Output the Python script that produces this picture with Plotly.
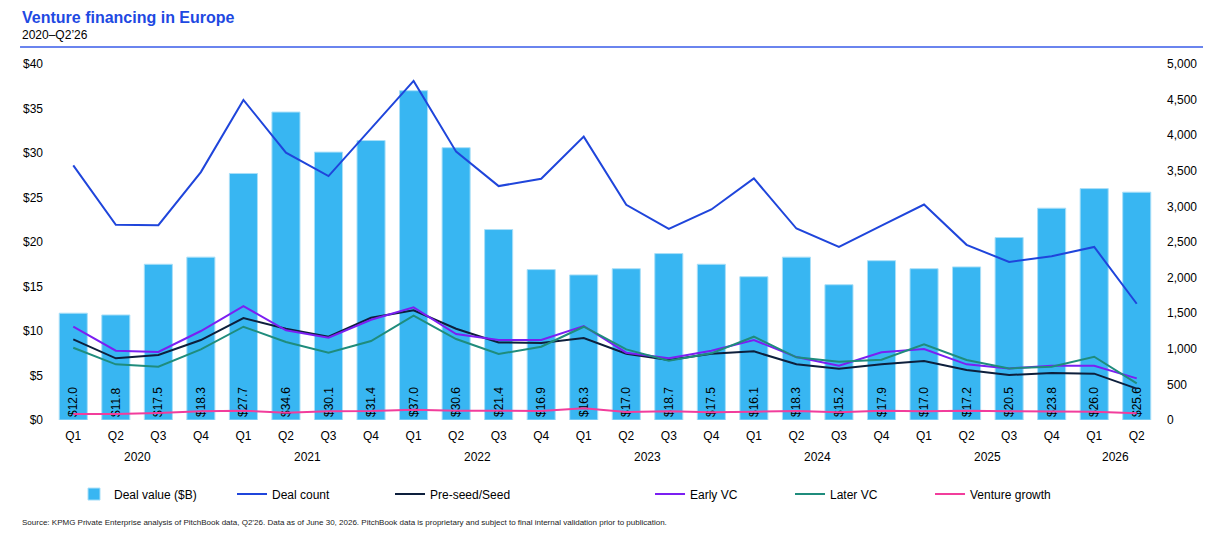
import plotly.graph_objects as go

# quarters from Q1 2020 to Q2 2026
quarters = ["Q1", "Q2", "Q3", "Q4"] * 6 + ["Q1", "Q2"]
years = ["2020", "2021", "2022", "2023", "2024", "2025", "2026"]
quarters_per_year = [4, 4, 4, 4, 4, 4, 2]

deal_value = [12.0, 11.8, 17.5, 18.3, 27.7, 34.6, 30.1, 31.4, 37.0, 30.6,
              21.4, 16.9, 16.3, 17.0, 18.7, 17.5, 16.1, 18.3, 15.2, 17.9,
              17.0, 17.2, 20.5, 23.8, 26.0, 25.6]
deal_count = [3576, 2741, 2736, 3482, 4496, 3755, 3426, 4100, 4763, 3769,
              3285, 3389, 3980, 3023, 2685, 2957, 3393, 2689, 2431, 2731,
              3027, 2460, 2220, 2300, 2431, 1633]
pre_seed = [1133, 866, 913, 1123, 1432, 1282, 1170, 1436, 1542, 1282,
            1090, 1081, 1151, 931, 842, 931, 964, 782, 721, 782,
            828, 702, 632, 660, 651, 440]
early_vc = [1310, 973, 955, 1250, 1600, 1259, 1156, 1408, 1582, 1207,
            1123, 1123, 1320, 945, 866, 973, 1123, 884, 763, 950,
            997, 782, 725, 763, 763, 585]
later_vc = [1015, 782, 749, 992, 1310, 1095, 945, 1109, 1465, 1137,
            927, 1029, 1310, 992, 833, 936, 1170, 880, 819, 847,
            1062, 842, 725, 749, 889, 515]
venture_growth = [84, 84, 98, 122, 131, 103, 122, 126, 145, 131,
                  131, 126, 164, 112, 122, 108, 117, 126, 108, 131,
                  122, 131, 122, 117, 117, 94]

FONT = "Arial, Liberation Sans, sans-serif"
x = list(range(len(quarters)))

fig = go.Figure()

# Deal value bars on the left axis
fig.add_trace(go.Bar(
    x=x, y=deal_value, name="Deal value ($B)",
    marker=dict(color="#38B6F2", line=dict(color="#A9DFF8", width=1)),
    width=0.66,
    text=["$%.1f" % v for v in deal_value],
    textposition="inside", insidetextanchor="start", textangle=-90,
    textfont=dict(family=FONT, size=12, color="#000000"),
    constraintext="none",
    legend="legend",
))

# Deal count lines on the right axis
lines = [
    ("Deal count", deal_count, "#1F45DB", "legend"),
    ("Pre-seed/Seed", pre_seed, "#0D1F3C", "legend"),
    ("Early VC", early_vc, "#7B1FF2", "legend2"),
    ("Later VC", later_vc, "#1F8C7C", "legend2"),
    ("Venture growth", venture_growth, "#F23D9C", "legend2"),
]
for name, values, color, leg in lines:
    fig.add_trace(go.Scatter(
        x=x, y=values, name=name, mode="lines", yaxis="y2",
        line=dict(color=color, width=2), legend=leg,
    ))

# year labels under the quarter ticks
annotations = []
start = 0
for year, n in zip(years, quarters_per_year):
    annotations.append(dict(
        x=start + (n - 1) / 2, y=-0.104, xref="x", yref="paper",
        text=year, showarrow=False, yanchor="middle",
        font=dict(family=FONT, size=12, color="#000000"),
    ))
    start += n

# title, subtitle, source
annotations += [
    dict(x=-0.0289, y=1.132, xref="paper", yref="paper", xanchor="left",
         yanchor="middle", showarrow=False,
         text="<b>Venture financing in Europe</b>",
         font=dict(family=FONT, size=16, color="#1E49E2")),
    dict(x=-0.0289, y=1.0815, xref="paper", yref="paper", xanchor="left",
         yanchor="middle", showarrow=False, text="2020\u2013Q2\u201926",
         font=dict(family=FONT, size=12, color="#000000")),
    dict(x=-0.0289, y=-0.2893, xref="paper", yref="paper", xanchor="left",
         yanchor="middle", showarrow=False,
         text="Source: KPMG Private Enterprise analysis of PitchBook data, "
              "Q2\u201926. Data as of June 30, 2026. PitchBook data is "
              "proprietary and subject to final internal validation prior "
              "to publication.",
         font=dict(family=FONT, size=8, color="#222222")),
]

fig.update_layout(
    width=1217, height=542,
    margin=dict(l=44, r=67, t=56, b=130),
    paper_bgcolor="white", plot_bgcolor="white",
    font=dict(family=FONT, size=12, color="#000000"),
    xaxis=dict(
        tickmode="array", tickvals=x, ticktext=quarters,
        range=[-0.5, len(x) - 0.5], showgrid=False, zeroline=False,
        showline=False, ticks="", automargin=False, ticklabelstandoff=7,
    ),
    yaxis=dict(
        range=[0, 40], dtick=5, tickprefix="$", showgrid=False,
        zeroline=False, showline=False, ticks="", automargin=False,
        ticklabelstandoff=8,
    ),
    yaxis2=dict(
        range=[0, 5000], dtick=500, tickformat=",", overlaying="y",
        side="right", showgrid=False, zeroline=False, showline=False,
        ticks="", automargin=False, ticklabelstandoff=8,
    ),
    legend=dict(
        orientation="h", x=0.0199, xanchor="left", y=-0.208,
        yanchor="middle", entrywidth=113, entrywidthmode="pixels",
        font=dict(family=FONT, size=12),
    ),
    legend2=dict(
        orientation="h", x=0.5407, xanchor="left", y=-0.208,
        yanchor="middle", entrywidth=95, entrywidthmode="pixels",
        font=dict(family=FONT, size=12),
    ),
    annotations=annotations,
    shapes=[dict(
        type="line", xref="paper", yref="paper",
        x0=-0.0289, x1=1.0407, y0=1.0478, y1=1.0478,
        line=dict(color="#6A84EE", width=2),
    )],
)

fig.write_html("out.html")
